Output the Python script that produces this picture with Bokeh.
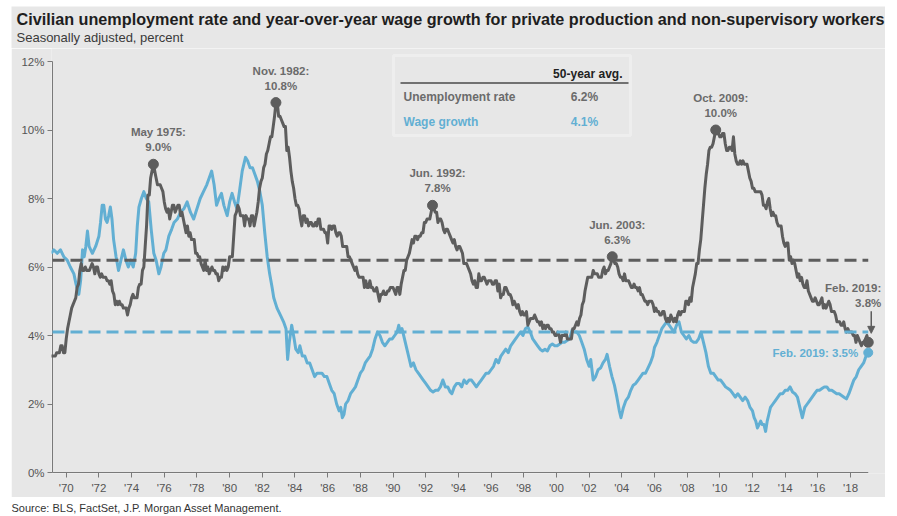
from bokeh.plotting import figure
from bokeh.models import Range1d, FixedTicker, Label, BoxAnnotation, Arrow, NormalHead, Spacer
from bokeh.layouts import column, row
from bokeh.embed import file_html
from bokeh.resources import INLINE

FONT = "Liberation Sans"
GREY = "#5d5d5d"
BLUE = "#62afd3"
BG = "#e7e7e7"
ANN = "#6b6b6b"
AXIS = "#7a7a7a"

# ---------------- data ----------------
start_year = 1969  # monthly series starting Jan 1969
unemployment = [
    3.4, 3.4, 3.4, 3.4, 3.4, 3.5, 3.5, 3.5, 3.7, 3.7, 3.5, 3.5,
    3.9, 4.2, 4.4, 4.6, 4.8, 4.9, 5.0, 5.1, 5.4, 5.5, 5.9, 6.1,
    5.9, 5.9, 6.0, 5.9, 5.9, 5.9, 6.0, 6.1, 6.0, 5.8, 6.0, 6.0,
    5.8, 5.7, 5.8, 5.7, 5.7, 5.7, 5.6, 5.6, 5.5, 5.6, 5.3, 5.2,
    4.9, 5.0, 4.9, 5.0, 4.9, 4.9, 4.8, 4.8, 4.8, 4.6, 4.8, 4.9,
    5.1, 5.2, 5.1, 5.1, 5.1, 5.4, 5.5, 5.5, 5.9, 6.0, 6.6, 7.2,
    8.1, 8.1, 8.6, 8.8, 9.0, 8.8, 8.6, 8.4, 8.4, 8.4, 8.3, 8.2,
    7.9, 7.7, 7.6, 7.7, 7.4, 7.6, 7.8, 7.8, 7.6, 7.7, 7.8, 7.8,
    7.5, 7.6, 7.4, 7.2, 7.0, 7.2, 6.9, 7.0, 6.8, 6.8, 6.8, 6.4,
    6.4, 6.3, 6.3, 6.1, 6.0, 5.9, 6.2, 5.9, 6.0, 5.8, 5.9, 6.0,
    5.9, 5.9, 5.8, 5.8, 5.6, 5.7, 5.7, 6.0, 5.9, 6.0, 5.9, 6.0,
    6.3, 6.3, 6.3, 6.9, 7.5, 7.6, 7.8, 7.7, 7.5, 7.5, 7.5, 7.2,
    7.5, 7.4, 7.4, 7.2, 7.5, 7.5, 7.2, 7.4, 7.6, 7.9, 8.3, 8.5,
    8.6, 8.9, 9.0, 9.3, 9.4, 9.6, 9.8, 9.8, 10.1, 10.4, 10.8, 10.8,
    10.4, 10.4, 10.3, 10.2, 10.1, 10.1, 9.4, 9.5, 9.2, 8.8, 8.5, 8.3,
    8.0, 7.8, 7.8, 7.7, 7.4, 7.2, 7.5, 7.5, 7.3, 7.4, 7.2, 7.3,
    7.3, 7.2, 7.2, 7.3, 7.2, 7.4, 7.4, 7.1, 7.1, 7.1, 7.0, 7.0,
    6.7, 7.2, 7.2, 7.1, 7.2, 7.2, 7.0, 6.9, 7.0, 7.0, 6.9, 6.6,
    6.6, 6.6, 6.6, 6.3, 6.3, 6.2, 6.1, 6.0, 5.9, 6.0, 5.8, 5.7,
    5.7, 5.7, 5.7, 5.4, 5.6, 5.4, 5.4, 5.6, 5.4, 5.4, 5.3, 5.3,
    5.4, 5.2, 5.0, 5.2, 5.2, 5.3, 5.2, 5.2, 5.3, 5.3, 5.4, 5.4,
    5.4, 5.3, 5.2, 5.4, 5.4, 5.2, 5.5, 5.7, 5.9, 5.9, 6.2, 6.3,
    6.4, 6.6, 6.8, 6.7, 6.9, 6.9, 6.8, 6.9, 6.9, 7.0, 7.0, 7.3,
    7.3, 7.4, 7.4, 7.4, 7.6, 7.8, 7.7, 7.6, 7.6, 7.3, 7.4, 7.4,
    7.3, 7.1, 7.0, 7.1, 7.1, 7.0, 6.9, 6.8, 6.7, 6.8, 6.6, 6.5,
    6.6, 6.6, 6.5, 6.4, 6.1, 6.1, 6.1, 6.0, 5.9, 5.8, 5.6, 5.5,
    5.6, 5.4, 5.4, 5.8, 5.6, 5.6, 5.7, 5.7, 5.6, 5.5, 5.6, 5.6,
    5.6, 5.5, 5.5, 5.6, 5.6, 5.3, 5.5, 5.1, 5.2, 5.2, 5.4, 5.4,
    5.3, 5.2, 5.2, 5.1, 4.9, 5.0, 4.9, 4.8, 4.9, 4.7, 4.6, 4.7,
    4.6, 4.6, 4.7, 4.3, 4.4, 4.5, 4.5, 4.5, 4.6, 4.5, 4.4, 4.4,
    4.3, 4.4, 4.2, 4.3, 4.2, 4.3, 4.3, 4.2, 4.2, 4.1, 4.1, 4.0,
    4.0, 4.1, 4.0, 3.8, 4.0, 4.0, 4.0, 4.1, 3.9, 3.9, 3.9, 3.9,
    4.2, 4.2, 4.3, 4.4, 4.3, 4.5, 4.6, 4.9, 5.0, 5.3, 5.5, 5.7,
    5.7, 5.7, 5.7, 5.9, 5.8, 5.8, 5.8, 5.7, 5.7, 5.7, 5.9, 6.0,
    5.8, 5.9, 5.9, 6.0, 6.1, 6.3, 6.2, 6.1, 6.1, 6.0, 5.8, 5.7,
    5.7, 5.6, 5.8, 5.6, 5.6, 5.6, 5.5, 5.4, 5.4, 5.5, 5.4, 5.4,
    5.3, 5.4, 5.2, 5.2, 5.1, 5.0, 5.0, 4.9, 5.0, 5.0, 5.0, 4.9,
    4.7, 4.8, 4.7, 4.7, 4.6, 4.6, 4.7, 4.7, 4.5, 4.4, 4.5, 4.4,
    4.6, 4.5, 4.4, 4.5, 4.4, 4.6, 4.7, 4.6, 4.7, 4.7, 4.7, 5.0,
    5.0, 4.9, 5.1, 5.0, 5.4, 5.6, 5.8, 6.1, 6.1, 6.5, 6.8, 7.3,
    7.8, 8.3, 8.7, 9.0, 9.4, 9.5, 9.5, 9.6, 9.8, 10.0, 9.9, 9.9,
    9.8, 9.8, 9.9, 9.9, 9.6, 9.4, 9.4, 9.5, 9.5, 9.4, 9.8, 9.3,
    9.1, 9.0, 9.0, 9.1, 9.0, 9.1, 9.0, 9.0, 9.0, 8.8, 8.6, 8.5,
    8.3, 8.3, 8.2, 8.2, 8.2, 8.2, 8.2, 8.1, 7.8, 7.8, 7.7, 7.9,
    8.0, 7.7, 7.5, 7.6, 7.5, 7.5, 7.3, 7.2, 7.2, 7.2, 6.9, 6.7,
    6.6, 6.7, 6.7, 6.2, 6.3, 6.1, 6.2, 6.1, 5.9, 5.7, 5.8, 5.6,
    5.7, 5.5, 5.4, 5.4, 5.6, 5.3, 5.2, 5.1, 5.0, 5.0, 5.1, 5.0,
    4.9, 4.9, 5.0, 5.1, 4.8, 4.9, 4.8, 4.9, 5.0, 4.9, 4.7, 4.7,
    4.7, 4.6, 4.4, 4.4, 4.4, 4.3, 4.3, 4.4, 4.2, 4.1, 4.2, 4.1,
    4.1, 4.1, 4.0, 4.0, 3.8, 4.0, 3.9, 3.8, 3.7, 3.8, 3.8, 3.9,
    4.0, 3.8,
]
unemp_dates = [start_year + i / 12 for i in range(len(unemployment))]

wage_dates = [
    1969.08, 1969.24, 1969.45, 1969.65, 1969.85, 1970.06, 1970.25, 1970.47, 1970.6, 1970.77,
    1970.88, 1971.0, 1971.1, 1971.2, 1971.3, 1971.4, 1971.6, 1971.8, 1972.0, 1972.1,
    1972.2, 1972.3, 1972.4, 1972.5, 1972.6, 1972.7, 1972.8, 1972.9, 1973.05, 1973.2,
    1973.35, 1973.5, 1973.65, 1973.8, 1973.95, 1974.1, 1974.25, 1974.35, 1974.45, 1974.6,
    1974.75, 1974.9, 1975.05, 1975.2, 1975.36, 1975.5, 1975.67, 1975.8, 1975.97, 1976.1,
    1976.28, 1976.45, 1976.6, 1976.8, 1977.0, 1977.2, 1977.4, 1977.6, 1977.8, 1978.0,
    1978.2, 1978.4, 1978.6, 1978.75, 1978.9, 1979.05, 1979.2, 1979.35, 1979.5, 1979.65,
    1979.85, 1980.0, 1980.15, 1980.3, 1980.45, 1980.6, 1980.77, 1980.97, 1981.1, 1981.25,
    1981.4, 1981.55, 1981.7, 1981.85, 1982.0, 1982.15, 1982.3, 1982.45, 1982.6, 1982.7,
    1982.9, 1983.1, 1983.3, 1983.45, 1983.55, 1983.65, 1983.8, 1983.95, 1984.05, 1984.2,
    1984.3, 1984.45, 1984.6, 1984.75, 1984.9, 1985.05, 1985.2, 1985.35, 1985.5, 1985.65,
    1985.8, 1985.95, 1986.1, 1986.25, 1986.4, 1986.55, 1986.7, 1986.8, 1986.9, 1987.0,
    1987.1, 1987.25, 1987.4, 1987.55, 1987.7, 1987.85, 1988.0, 1988.15, 1988.3, 1988.45,
    1988.6, 1988.75, 1988.9, 1989.05, 1989.2, 1989.35, 1989.5, 1989.65, 1989.8, 1989.95,
    1990.1, 1990.25, 1990.35, 1990.45, 1990.55, 1990.7, 1990.85, 1991.0, 1991.1, 1991.25,
    1991.4, 1991.55, 1991.7, 1991.85, 1992.0, 1992.15, 1992.3, 1992.45, 1992.6, 1992.75,
    1992.9, 1993.05, 1993.2, 1993.35, 1993.5, 1993.6, 1993.75, 1993.9, 1994.05, 1994.2,
    1994.35, 1994.5, 1994.65, 1994.8, 1994.95, 1995.1, 1995.25, 1995.4, 1995.55, 1995.7,
    1995.85, 1996.0, 1996.15, 1996.3, 1996.45, 1996.6, 1996.75, 1996.9, 1997.05, 1997.2,
    1997.35, 1997.5, 1997.65, 1997.8, 1997.95, 1998.1, 1998.25, 1998.4, 1998.55, 1998.7,
    1998.85, 1999.0, 1999.15, 1999.3, 1999.45, 1999.6, 1999.75, 1999.9, 2000.05, 2000.2,
    2000.35, 2000.5, 2000.65, 2000.8, 2000.95, 2001.1, 2001.25, 2001.4, 2001.55, 2001.7,
    2001.85, 2002.0, 2002.1, 2002.25, 2002.4, 2002.55, 2002.7, 2002.85, 2003.0, 2003.1,
    2003.25, 2003.4, 2003.55, 2003.7, 2003.85, 2003.95, 2004.1, 2004.25, 2004.4, 2004.55,
    2004.7, 2004.85, 2005.0, 2005.15, 2005.3, 2005.45, 2005.6, 2005.75, 2005.9, 2006.0,
    2006.15, 2006.3, 2006.45, 2006.6, 2006.75, 2006.9, 2007.05, 2007.2, 2007.35, 2007.5,
    2007.65, 2007.8, 2007.95, 2008.1, 2008.25, 2008.4, 2008.55, 2008.7, 2008.85, 2009.0,
    2009.15, 2009.3, 2009.45, 2009.6, 2009.75, 2009.9, 2010.05, 2010.2, 2010.35, 2010.5,
    2010.65, 2010.8, 2010.95, 2011.1, 2011.25, 2011.4, 2011.55, 2011.7, 2011.85, 2012.0,
    2012.1, 2012.2, 2012.3, 2012.4, 2012.5, 2012.6, 2012.7, 2012.8, 2012.9, 2013.0,
    2013.1, 2013.25, 2013.4, 2013.55, 2013.7, 2013.85, 2014.0, 2014.15, 2014.3, 2014.45,
    2014.6, 2014.75, 2014.9, 2015.05, 2015.2, 2015.35, 2015.5, 2015.65, 2015.8, 2015.95,
    2016.1, 2016.25, 2016.4, 2016.55, 2016.7, 2016.85, 2017.0, 2017.15, 2017.3, 2017.45,
    2017.6, 2017.75, 2017.9, 2018.05, 2018.2, 2018.35, 2018.5, 2018.65, 2018.8, 2018.95,
    2019.083,
]
wage_growth = [
    6.4, 6.5, 6.4, 6.5, 6.3, 6.2, 6.0, 5.8, 5.5, 5.2,
    5.6, 6.5, 6.3, 6.6, 7.05, 6.6, 6.4, 6.6, 6.9, 7.3,
    7.8, 7.8, 7.4, 7.3, 7.5, 7.75, 7.4, 6.8, 6.3, 5.9,
    6.2, 6.5, 6.2, 6.0, 6.2, 6.0, 6.4, 7.2, 7.75, 8.0,
    8.2, 8.0, 7.9, 7.1, 6.4, 6.2, 5.8, 6.0, 6.4, 6.5,
    6.9, 7.1, 7.3, 7.4, 7.6, 7.7, 7.9, 7.6, 7.4, 7.7,
    8.0, 8.2, 8.4, 8.6, 8.8, 8.4, 7.8, 8.0, 8.15, 7.8,
    7.5, 7.9, 8.15, 7.9, 7.7, 8.2, 8.8, 9.2, 9.1, 8.9,
    8.9, 8.7, 8.5, 8.2, 7.8, 7.0, 6.3, 5.8, 5.4, 5.1,
    4.8, 4.6, 4.4, 4.2, 3.3, 3.8, 4.3, 3.9, 3.6, 3.5,
    3.7, 3.4, 3.4, 3.2, 3.2, 3.0, 2.8, 2.9, 2.9, 2.9,
    2.8, 2.8, 2.6, 2.4, 2.3, 2.0, 1.8, 1.9, 1.6, 1.7,
    2.0, 2.1, 2.3, 2.4, 2.5, 2.7, 2.9, 3.0, 3.2, 3.3,
    3.4, 3.6, 3.9, 4.1, 4.0, 3.8, 3.7, 3.8, 3.9, 3.9,
    4.0, 4.1, 4.3, 4.1, 4.2, 3.9, 3.6, 3.3, 3.1, 3.2,
    3.0, 2.9, 2.8, 2.7, 2.6, 2.5, 2.4, 2.35, 2.4, 2.4,
    2.5, 2.7, 2.5, 2.5, 2.35, 2.3, 2.5, 2.6, 2.6, 2.5,
    2.7, 2.6, 2.7, 2.7, 2.6, 2.5, 2.6, 2.7, 2.8, 2.9,
    2.9, 3.0, 3.1, 3.3, 3.2, 3.4, 3.5, 3.6, 3.5, 3.7,
    3.8, 3.9, 4.0, 4.1, 4.0, 4.2, 4.25, 4.1, 3.9, 3.8,
    3.7, 3.6, 3.55, 3.6, 3.55, 3.7, 3.75, 3.7, 3.7, 3.75,
    3.8, 3.8, 3.85, 3.9, 4.15, 4.1, 4.1, 4.0, 3.8, 3.6,
    3.3, 3.1, 3.3, 2.7, 2.8, 3.0, 3.05, 3.2, 3.3, 3.45,
    3.1, 2.8, 2.55, 2.2, 1.8, 1.6, 1.9, 2.1, 2.2, 2.4,
    2.55, 2.6, 2.7, 2.8, 2.9, 2.9, 3.05, 3.2, 3.4, 3.65,
    3.8, 4.0, 4.2, 4.3, 4.4, 4.3, 4.2, 4.1, 4.3, 4.4,
    4.1, 4.0, 3.9, 4.0, 3.85, 3.8, 3.8, 3.9, 4.1, 3.8,
    3.5, 3.1, 2.9, 2.9, 2.8, 2.7, 2.7, 2.6, 2.5, 2.45,
    2.4, 2.3, 2.2, 2.3, 2.2, 2.1, 2.2, 2.1, 1.9, 1.8,
    1.6, 1.5, 1.3, 1.4, 1.5, 1.4, 1.4, 1.2, 1.5, 1.7,
    1.9, 2.0, 2.1, 2.2, 2.3, 2.3, 2.4, 2.4, 2.5, 2.35,
    2.3, 2.2, 1.9, 1.6, 1.9, 2.0, 2.1, 2.2, 2.3, 2.4,
    2.4, 2.45, 2.5, 2.5, 2.4, 2.4, 2.35, 2.3, 2.3, 2.25,
    2.2, 2.15, 2.3, 2.5, 2.7, 2.8, 3.0, 3.1, 3.2, 3.4,
    3.5,
]

avg_unemployment = 6.2
avg_wage = 4.1

peak_dates = [1975 + 4 / 12, 1982 + 10 / 12, 1992 + 5 / 12, 2003 + 5 / 12, 2009 + 9 / 12]
peak_values = [9.0, 10.8, 7.8, 6.3, 10.0]
peak_names = ["May 1975:", "Nov. 1982:", "Jun. 1992:", "Jun. 2003:", "Oct. 2009:"]
latest_name = "Feb. 2019:"

x_tick_years = list(range(1970, 2019, 2))
x_tick_labels = ["'" + str(y)[2:] for y in x_tick_years]
y_ticks = [0, 2, 4, 6, 8, 10, 12]
y_tick_labels = [f"{v}%" for v in y_ticks]

title_text = ("Civilian unemployment rate and year-over-year wage growth for private "
              "production and non-supervisory workers")
subtitle_text = "Seasonally adjusted, percent"
source_text = "Source: BLS, FactSet, J.P. Morgan Asset Management."

# ---------------- geometry (pixels) ----------------
W = 874                 # grey panel width
HEAD_H = 42             # title strip height
PX_YEAR = 16.34         # pixels per year
PX_PCT = 34.25          # pixels per percentage point
FRAME_W = 834           # frame runs from the y axis to the right edge of the panel
FRAME_H = 425           # frame runs from below the subtitle to the x axis
AXIS_PAD = 1.0          # frame edge sits 1px outside the drawn axis lines
x_axis_start = 1969.16
y_top = 12.0 + (FRAME_H - AXIS_PAD - 12.0 * PX_PCT) / PX_PCT

x_range = Range1d(x_axis_start - AXIS_PAD / PX_YEAR,
                  x_axis_start + (FRAME_W - AXIS_PAD) / PX_YEAR)
y_range = Range1d(-AXIS_PAD / PX_PCT, y_top)

p = figure(width=W, height=FRAME_H + 24, output_backend="svg", toolbar_location=None,
           x_range=x_range, y_range=y_range,
           min_border_left=W - FRAME_W, min_border_right=0, min_border_top=0,
           min_border_bottom=24)
p.frame_align = False
p.background_fill_color = BG
p.border_fill_color = BG
p.outline_line_color = None
p.xgrid.visible = False
p.ygrid.visible = False

for ax in (p.xaxis[0], p.yaxis[0]):
    ax.axis_line_color = None
    ax.major_tick_line_color = AXIS
    ax.major_tick_in = 1
    ax.major_tick_out = 4
    ax.minor_tick_line_color = None
    ax.major_label_text_font = FONT
    ax.major_label_text_font_size = "11.5px"
    ax.major_label_text_color = "#555555"

p.xaxis.ticker = FixedTicker(ticks=x_tick_years)
p.xaxis.major_label_overrides = {y: l for y, l in zip(x_tick_years, x_tick_labels)}
p.xaxis.major_label_standoff = 4
p.yaxis.ticker = FixedTicker(ticks=y_ticks)
p.yaxis.major_label_overrides = {v: l for v, l in zip(y_ticks, y_tick_labels)}
p.yaxis.major_label_standoff = 3

# axis lines (drawn so that they stop at 12% and at the last observation)
p.line([x_axis_start, x_axis_start], [0, y_ticks[-1]], line_color=AXIS, line_width=1)
p.line([x_axis_start, unemp_dates[-1]], [0, 0], line_color=AXIS, line_width=1)

# series
p.line(wage_dates, wage_growth, line_color=BLUE, line_width=3, line_join="round")
p.line(unemp_dates, unemployment, line_color=GREY, line_width=3, line_join="round")

# averages
p.line([x_axis_start, unemp_dates[-1]], [avg_unemployment] * 2, line_color=GREY,
       line_width=3, line_dash="12 6")
p.line([x_axis_start, unemp_dates[-1]], [avg_wage] * 2, line_color=BLUE,
       line_width=3, line_dash="12 6")

# markers
p.scatter(peak_dates, peak_values, size=10, fill_color=GREY, line_color=GREY)
p.scatter([unemp_dates[-1]], [unemployment[-1]], size=10, fill_color=GREY, line_color=GREY)
p.scatter([wage_dates[-1]], [wage_growth[-1]], size=9, fill_color=BLUE, line_color=BLUE)


def lab(fig, x, y, text, **kw):
    opts = dict(text_font=FONT, text_font_size="11.5px", text_font_style="bold",
                text_color=ANN, text_baseline="middle", text_align="center")
    opts.update(kw)
    fig.add_layout(Label(x=x, y=y, text=text, **opts))


for d, v, name in zip(peak_dates, peak_values, peak_names):
    lab(p, d, v, name, x_offset=5, y_offset=32)
    lab(p, d, v, f"{v:.1f}%", x_offset=5, y_offset=17)

lab(p, unemp_dates[-1], unemployment[-1], latest_name, x_offset=13, y_offset=54, text_align="right")
lab(p, unemp_dates[-1], unemployment[-1], f"{unemployment[-1]:.1f}%", x_offset=13, y_offset=39,
    text_align="right")
lab(p, wage_dates[-1], wage_growth[-1], f"{latest_name} {wage_growth[-1]:.1f}%", x_offset=-10,
    y_offset=0, text_align="right", text_color=BLUE)

p.add_layout(Arrow(end=NormalHead(size=7, fill_color=GREY, line_color=GREY),
                   x_start=unemp_dates[-1] + 3 / PX_YEAR,
                   y_start=unemployment[-1] + 31 / PX_PCT,
                   x_end=unemp_dates[-1] + 3 / PX_YEAR,
                   y_end=unemployment[-1] + 9 / PX_PCT,
                   line_color=GREY, line_width=1.5))


# legend box (screen units, relative to frame: x from left edge, y from bottom edge)
def slabel(fig, x, y, text, **kw):
    opts = dict(x_units="screen", y_units="screen", text_font=FONT,
                text_baseline="middle", text_align="left", text_font_size="12px",
                text_font_style="bold")
    opts.update(kw)
    fig.add_layout(Label(x=x, y=y, text=text, **opts))


p.add_layout(BoxAnnotation(left=342, right=579, top=418, bottom=338,
                           left_units="screen", right_units="screen",
                           top_units="screen", bottom_units="screen",
                           fill_alpha=0, line_color="white", line_width=3))
p.add_layout(Arrow(end=None, x_start=349, y_start=390.5, x_end=577, y_end=390.5,
                   start_units="screen", end_units="screen",
                   line_color="#4a4a4a", line_width=1.5))
slabel(p, 571, 400, "50-year avg.", text_align="right", text_color="#222222")
slabel(p, 352, 377, "Unemployment rate", text_color=ANN)
slabel(p, 533, 377, f"{avg_unemployment:.1f}%", text_align="center", text_color=ANN)
slabel(p, 352, 352, "Wage growth", text_color=BLUE)
slabel(p, 533, 352, f"{avg_wage:.1f}%", text_align="center", text_color=BLUE)

# header strip (title + subtitle)
p0 = figure(width=W, height=HEAD_H, output_backend="svg", toolbar_location=None,
            x_range=Range1d(0, 1), y_range=Range1d(0, 1), x_axis_type=None, y_axis_type=None,
            min_border=0, min_border_left=0, min_border_right=0,
            min_border_top=0, min_border_bottom=0)
p0.frame_align = False
p0.background_fill_color = BG
p0.border_fill_color = BG
p0.outline_line_color = None
p0.grid.visible = False
slabel(p0, 5, 30, title_text, text_baseline="middle", text_font_size="16.2px",
       text_color="#1e1e1e")
slabel(p0, 5, 11, subtitle_text, text_baseline="middle", text_font_size="13px",
       text_font_style="normal", text_color="#3a3a3a")

# source strip
p2 = figure(width=W, height=19, output_backend="svg", toolbar_location=None,
            x_range=Range1d(0, 1), y_range=Range1d(0, 1), x_axis_type=None, y_axis_type=None,
            min_border=0, min_border_left=0, min_border_right=0,
            min_border_top=0, min_border_bottom=0)
p2.frame_align = False
p2.background_fill_color = "white"
p2.border_fill_color = "white"
p2.outline_line_color = None
p2.grid.visible = False
slabel(p2, 0, 9, source_text, text_font_size="11px", text_font_style="normal",
       text_color="#333333")

layout = row(Spacer(width=11), column(Spacer(height=6), p0, p, p2, spacing=0), spacing=0)
open("out.html", "w").write(file_html(layout, INLINE))
